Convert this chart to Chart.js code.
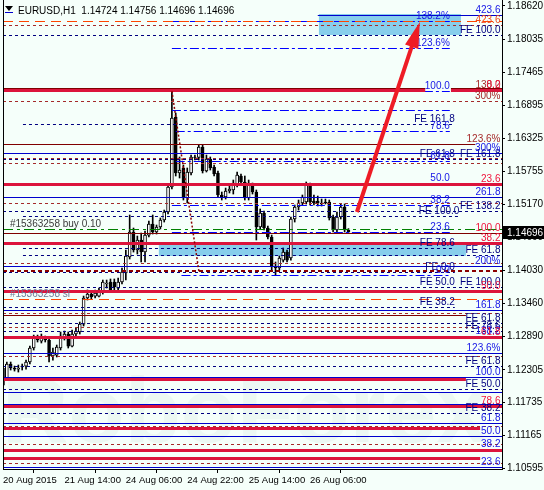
<!DOCTYPE html>
<html>
<head>
<meta charset="utf-8">
<script src="https://cdn.jsdelivr.net/npm/chart.js@4.4.1/dist/chart.umd.min.js"></script>
<style>
  html, body { margin: 0; padding: 0; background: #f5fffa; overflow: hidden; }
</style>
</head>
<body>
<canvas id="chart" width="544" height="490"></canvas>
<script>
// === DATA (EURUSD H1) ===
const opens = [1.12040,1.12162,1.12405,1.12336,1.12318,1.12353,1.12370,1.12440,1.12683,1.12856,
  1.12804,1.12856,1.12822,1.12544,1.12561,1.12683,1.12856,1.12926,1.12717,1.12926,
  1.12961,1.13099,1.13551,1.13620,1.13585,1.13585,1.13655,1.13794,1.13829,1.13829,
  1.13724,1.13829,1.13985,1.14263,1.14697,1.14384,1.14558,1.14349,1.14644,1.14835,
  1.14697,1.14783,1.14905,1.15044,1.15478,1.16693,1.15721,1.15808,1.15287,1.15721,
  1.15999,1.15990,1.16172,1.15755,1.15964,1.15825,1.15721,1.15339,1.15304,1.15408,
  1.15426,1.15512,1.15669,1.15565,1.15287,1.15530,1.15391,1.14783,1.15026,1.14766,
  1.14610,1.14089,1.14072,1.14210,1.14349,1.14245,1.14922,1.15131,1.15200,1.15217,
  1.15512,1.15235,1.15235,1.15200,1.15217,1.15217,1.14957,1.14731,1.14957,1.15131,
  1.14724];
const highs = [1.12422,1.12440,1.12440,1.12370,1.12388,1.12405,1.12474,1.12717,1.12908,1.12908,
  1.12926,1.12891,1.12856,1.12683,1.12735,1.12961,1.12978,1.12961,1.12995,1.13030,
  1.13134,1.13585,1.13690,1.13655,1.13690,1.13724,1.13863,1.13863,1.13881,1.13881,
  1.13898,1.14072,1.14384,1.14992,1.14766,1.14627,1.14679,1.14714,1.14887,1.14992,
  1.14818,1.14940,1.15078,1.15512,1.17144,1.16762,1.15999,1.15860,1.15808,1.16033,
  1.16033,1.16207,1.16207,1.16033,1.15999,1.15860,1.15755,1.15391,1.15460,1.15495,
  1.15599,1.15738,1.15703,1.15669,1.15599,1.15547,1.15426,1.15096,1.15061,1.14801,
  1.14644,1.14176,1.14280,1.14419,1.14384,1.14957,1.15165,1.15252,1.15339,1.15565,
  1.15547,1.15339,1.15321,1.15269,1.15269,1.15252,1.14992,1.15044,1.15183,1.15183,
  1.14756];
const lows = [1.11954,1.12127,1.12301,1.12283,1.12266,1.12301,1.12318,1.12405,1.12648,1.12787,
  1.12770,1.12787,1.12440,1.12474,1.12527,1.12648,1.12822,1.12683,1.12700,1.12891,
  1.12926,1.13065,1.13516,1.13533,1.13551,1.13568,1.13620,1.13724,1.13655,1.13690,
  1.13690,1.13794,1.13863,1.14228,1.14349,1.14315,1.14176,1.14176,1.14610,1.14662,
  1.14662,1.14749,1.14870,1.15009,1.15443,1.15669,1.15634,1.15252,1.15200,1.15686,
  1.15946,1.15946,1.15721,1.15738,1.15773,1.15669,1.15304,1.15252,1.15269,1.15374,
  1.15356,1.15478,1.15530,1.15252,1.15252,1.15356,1.14558,1.14749,1.14731,1.14575,
  1.14037,1.13950,1.14037,1.14176,1.14176,1.14210,1.14870,1.15078,1.15165,1.15183,
  1.15165,1.15165,1.15148,1.15148,1.15183,1.14905,1.14697,1.14697,1.14922,1.14697,
  1.14696];
const closes = [1.12336,1.12405,1.12336,1.12318,1.12336,1.12370,1.12440,1.12683,1.12856,1.12822,
  1.12874,1.12822,1.12544,1.12613,1.12700,1.12891,1.12926,1.12717,1.12926,1.12978,
  1.13099,1.13551,1.13620,1.13568,1.13638,1.13690,1.13829,1.13811,1.13690,1.13742,
  1.13829,1.14002,1.14280,1.14697,1.14384,1.14558,1.14349,1.14644,1.14835,1.14697,
  1.14783,1.14905,1.15044,1.15478,1.16676,1.15721,1.15773,1.15287,1.15738,1.15999,
  1.15990,1.16172,1.15755,1.15964,1.15808,1.15703,1.15339,1.15287,1.15408,1.15443,
  1.15547,1.15686,1.15565,1.15287,1.15530,1.15391,1.14783,1.15026,1.14766,1.14610,
  1.14089,1.14072,1.14245,1.14349,1.14210,1.14922,1.15131,1.15200,1.15304,1.15512,
  1.15217,1.15200,1.15200,1.15183,1.15200,1.14940,1.14731,1.14957,1.15131,1.14731,
  1.14696];

const timeTickBars = [0, 16, 32, 48, 64, 80];
const timeLabels = ['20 Aug 2015', '21 Aug 14:00', '24 Aug 06:00', '24 Aug 22:00', '25 Aug 14:00', '26 Aug 06:00'];
const priceTicks = [1.18620, 1.18035, 1.17465, 1.16895, 1.16325, 1.15755, 1.15170, 1.14600,
  1.14030, 1.13460, 1.12890, 1.12305, 1.11735, 1.11165, 1.10595];

// chart objects: [price, from bar, to bar]
const crimsonLines = [[1.17162,0,110],[1.17162,116.7,130],[1.15530,0,130],[1.14500,0,130],[1.13672,0,130],
  [1.12868,0,130],[1.12153,0,120.6],[1.11676,0,130],[1.11289,0,124.3],[1.10912,0,130],[1.10768,0,124.3]];
const darkRedLines = [[1.17188,0,110],[1.17188,116.7,130],[1.16219,0,123],[1.14674,0,130],[1.13256,0,120.6],[1.10591,0,130]];
const blueLines = [[1.18469,82,130],[1.16063,0,130],[1.15299,0,130],[1.14106,0,130],[1.13342,0,130],[1.12891,0,130],
  [1.12591,0,130],[1.12185,0,130],[1.11924,0,130],[1.11711,0,130],[1.11376,0,130],[1.11155,0,130],[1.10929,0,130],[1.10617,0,130]];
const brownDashLines = [[1.18290,0,130],[1.16971,0,130],[1.15981,0,130],[1.15889,0,130],[1.15195,0,130],[1.14153,0,130],
  [1.13285,0,130],[1.13052,0,130],[1.12549,0,130],[1.11329,0,130],[1.11016,0,130],[1.10681,0,130]];
const darkRedDashLines = [[1.14028,0,130]];
const navyLines = [[1.18116,0,130],[1.16563,5.2,117.7],[1.15964,0,130],[1.15066,0,130],[1.14974,5.2,118.9],
  [1.14422,5.2,117.7],[1.14297,5.2,130],[1.14007,0,117.7],[1.13736,0,130],[1.13389,0,117.7],[1.13122,0,130],
  [1.12978,0,130],[1.12379,0,130],[1.11966,0,130],[1.11549,0,130]];
const dashDotLines = [[1.18359,44,116.4],[1.17886,44,116.4],[1.17136,44,116.4],[1.16814,44,116.4],[1.16455,45,116.4],
  [1.15938,45,116.4],[1.15547,44,116.4],[1.15165,44,116.4],[1.14691,44,116.4],[1.13950,46.5,116.4]];
const orangeLines = [[1.18365,0,130],[1.13528,0,130]];
const greenLines = [[1.14754,0,130]];
const zones = [[82.3,119.3,1.18481,1.18116],[40.6,120.6,1.14506,1.14280]];
const fiboTrend = [[44,1.17144],[51.1,1.13985]];
const arrowFrom = [92.2, 1.15044];
const arrowTo = [108.6, 1.18342];

// level labels: [text, price]
const blueRight = [['423.6',1.18469],['300%',1.16063],['261.8',1.15299],['200%',1.14106],['161.8',1.13342],['138.2',1.12891],
  ['123.6%',1.12591],['100.0',1.12185],['61.8',1.11376],['50.0',1.11155],['38.2',1.10929],['23.6',1.10617]];
const redRight = [['0.0',1.17162],['23.6',1.15530],['100.0',1.14674],['38.2',1.14500],['50.0',1.13672],['61.8',1.12868],['78.6',1.11676]];
const orangeRight = [['423.6',1.18290]];
const brownRight = [['138.2',1.17162],['300%',1.16971],['123.6%',1.16219]];
const navyRight = [['FE 100.0',1.18116],['FE 161.8',1.15964],['FE 138.2',1.15066],['FE 61.8',1.14297],['FE 100.0',1.13736],
  ['FE 61.8',1.13122],['FE 78.6',1.12978],['FE 61.8',1.12379],['FE 50.0',1.11966],['FE 38.2',1.11549]];
const blueMid = [['138.2%',1.18359],['123.6%',1.17886],['100.0',1.17136],['78.6',1.16455],['61.8',1.15938],
  ['50.0',1.15547],['38.2',1.15165],['23.6',1.14691],['0.0',1.13950]];
const navyMid = [['FE 161.8',1.16563],['FE 61.8',1.15964],['FE 78.6',1.14422],['FE 0.0',1.14007],['FE 50.0',1.13736],['FE 38.2',1.13389]];
const navyMidWide = [['FE 100.0',1.14974]];
const orderLabels = [['#15363258 buy 0.10',1.14783]];
const slLabels = [['#15363258 sl',1.13568]];

// === STYLES ===
const FONT = '10px "Liberation Sans", Arial, sans-serif';
const styles = {
  crimson: { color: '#dc143c', width: 3, dash: [] },
  darkred: { color: '#800000', width: 1, dash: [] },
  blue: { color: '#0000cd', width: 1, dash: [] },
  brown: { color: '#a52a2a', width: 1, dash: [3, 3] },
  darkredDash: { color: '#8b0000', width: 2, dash: [4, 3] },
  navy: { color: '#000080', width: 1, dash: [3, 3] },
  dashdot: { color: '#0000ff', width: 1, dash: [9, 3, 3, 3] },
  orange: { color: '#ff4500', width: 1, dash: [10, 6] },
  green: { color: '#008000', width: 1, dash: [10, 4, 3, 4] }
};

function drawLines(ctx, xs, ys, list, st) {
  ctx.strokeStyle = st.color;
  ctx.lineWidth = st.width;
  ctx.setLineDash(st.dash);
  list.forEach(([p, b0, b1]) => {
    let py = Math.round(ys.getPixelForValue(p));
    if (st.width % 2 === 1) py += 0.5;
    ctx.beginPath();
    ctx.moveTo(xs.getPixelForValue(b0), py);
    ctx.lineTo(xs.getPixelForValue(b1), py);
    ctx.stroke();
  });
}

function drawLabels(ctx, xs, ys, list, color, bar, align, lift) {
  ctx.fillStyle = color;
  ctx.textAlign = align;
  ctx.textBaseline = 'alphabetic';
  ctx.font = FONT;
  list.forEach(([t, p]) => {
    ctx.fillText(t, xs.getPixelForValue(bar), Math.round(ys.getPixelForValue(p)) - lift);
  });
}

const mt4Plugin = {
  id: 'mt4',
  beforeDatasetsDraw(chart) {
    const { ctx, chartArea: a, scales: { x, y } } = chart;
    ctx.save();
    ctx.beginPath();
    ctx.rect(a.left, a.top, a.width, a.height);
    ctx.clip();
    // faint broker watermark
    ctx.font = 'bold 92px "Liberation Sans", Arial';
    ctx.fillStyle = 'rgba(140,170,160,0.08)';
    ctx.textAlign = 'left';
    ctx.fillText('RoboForex', 2, 442);
    // rectangles
    ctx.fillStyle = '#87ceeb';
    zones.forEach(z => {
      const x0 = x.getPixelForValue(z[0]), x1 = x.getPixelForValue(z[1]);
      const y0 = y.getPixelForValue(z[2]), y1 = y.getPixelForValue(z[3]);
      ctx.fillRect(x0, y0, x1 - x0, y1 - y0);
    });
    ctx.restore();
  },
  afterDatasetsDraw(chart) {
    const { ctx, chartArea: a, scales: { x, y } } = chart;
    ctx.save();
    ctx.beginPath();
    ctx.rect(a.left, a.top, a.width, a.height);
    ctx.clip();

    drawLines(ctx, x, y, brownDashLines, styles.brown);
    drawLines(ctx, x, y, navyLines, styles.navy);
    drawLines(ctx, x, y, dashDotLines, styles.dashdot);
    drawLines(ctx, x, y, orangeLines, styles.orange);
    drawLines(ctx, x, y, greenLines, styles.green);
    drawLines(ctx, x, y, darkRedDashLines, styles.darkredDash);
    drawLines(ctx, x, y, blueLines, styles.blue);
    drawLines(ctx, x, y, darkRedLines, styles.darkred);
    drawLines(ctx, x, y, crimsonLines, styles.crimson);

    // fibo expansion trend (dotted)
    ctx.strokeStyle = '#8b0000';
    ctx.lineWidth = 1.5;
    ctx.setLineDash([2, 2]);
    ctx.beginPath();
    ctx.moveTo(x.getPixelForValue(fiboTrend[0][0]), y.getPixelForValue(fiboTrend[0][1]));
    ctx.lineTo(x.getPixelForValue(fiboTrend[1][0]), y.getPixelForValue(fiboTrend[1][1]));
    ctx.stroke();
    ctx.setLineDash([]);

    // labels
    drawLabels(ctx, x, y, brownRight, '#a52a2a', 129.6, 'right', 2);
    drawLabels(ctx, x, y, navyRight, '#000080', 129.6, 'right', 2);
    drawLabels(ctx, x, y, blueRight, '#1515e6', 129.6, 'right', 2);
    drawLabels(ctx, x, y, orangeRight, '#f04a1a', 129.6, 'right', 2);
    drawLabels(ctx, x, y, redRight, '#f0143c', 129.6, 'right', 2);
    drawLabels(ctx, x, y, navyMid, '#000080', 117.7, 'right', 2);
    drawLabels(ctx, x, y, navyMidWide, '#000080', 118.9, 'right', 2);
    drawLabels(ctx, x, y, blueMid, '#1515e6', 116.4, 'right', 2);
    drawLabels(ctx, x, y, orderLabels, '#3a3a3a', 1.8, 'left', 0);
    drawLabels(ctx, x, y, slLabels, '#6b7b99', 1.8, 'left', 0);

    // red arrow
    const ax0 = x.getPixelForValue(arrowFrom[0]), ay0 = y.getPixelForValue(arrowFrom[1]);
    const ax1 = x.getPixelForValue(arrowTo[0]), ay1 = y.getPixelForValue(arrowTo[1]);
    const dx = ax1 - ax0, dy = ay1 - ay0, len = Math.hypot(dx, dy);
    const ux = dx / len, uy = dy / len, hl = 26, hw = 7;
    const bx = ax1 - ux * hl, by = ay1 - uy * hl;
    ctx.strokeStyle = '#ee1c25';
    ctx.fillStyle = '#ee1c25';
    ctx.lineWidth = 4;
    ctx.beginPath();
    ctx.moveTo(ax0, ay0);
    ctx.lineTo(bx + ux * 2, by + uy * 2);
    ctx.stroke();
    ctx.beginPath();
    ctx.moveTo(ax1, ay1);
    ctx.lineTo(bx - uy * hw, by + ux * hw);
    ctx.lineTo(bx + uy * hw, by - ux * hw);
    ctx.closePath();
    ctx.fill();
    ctx.restore();
  },
  afterDraw(chart) {
    const { ctx, chartArea: a, scales: { y } } = chart;
    const n = closes.length - 1;
    ctx.save();
    // left frame
    ctx.strokeStyle = '#000';
    ctx.lineWidth = 1;
    ctx.beginPath();
    ctx.moveTo(a.left + 0.5, a.top);
    ctx.lineTo(a.left + 0.5, a.bottom);
    ctx.stroke();
    // header
    ctx.fillStyle = '#000';
    ctx.beginPath();
    ctx.moveTo(5, 6); ctx.lineTo(13, 6); ctx.lineTo(9, 11); ctx.closePath();
    ctx.fill();
    ctx.fillStyle = '#0000cd';
    ctx.fillRect(5, 12, 8, 1);
    ctx.fillStyle = '#000';
    ctx.font = FONT;
    ctx.textAlign = 'left';
    ctx.textBaseline = 'alphabetic';
    ctx.fillText('EURUSD,H1  ' + [opens[n], highs[n], lows[n], closes[n]].map(v => v.toFixed(5)).join(' '), 18, 14);
    // bid price box
    const py = Math.round(y.getPixelForValue(closes[n]));
    ctx.fillStyle = '#000';
    ctx.fillRect(a.right + 1, py - 6, 42, 13);
    ctx.fillStyle = '#fff';
    ctx.textBaseline = 'middle';
    ctx.fillText(closes[n].toFixed(5), a.right + 5, py + 1);
    ctx.restore();
  }
};

// === CANDLES ===
const idx = closes.map((c, i) => i);
const bodyData = idx.map(i => {
  let o = opens[i], c = closes[i];
  if (Math.abs(o - c) < 0.00004) c = o - 0.00004;
  return { x: i, y: [o, c] };
});
const wickData = idx.map(i => ({ x: i, y: [lows[i], highs[i]] }));
const bodyColors = idx.map(i => closes[i] >= opens[i] ? '#ffffff' : '#000000');

new Chart(document.getElementById('chart'), {
  type: 'bar',
  data: {
    datasets: [
      { data: bodyData, backgroundColor: bodyColors, borderColor: '#000', borderWidth: 1,
        borderSkipped: false, barThickness: 3, grouped: false },
      { data: wickData, backgroundColor: '#000', borderWidth: 0, barThickness: 1, grouped: false }
    ]
  },
  options: {
    responsive: false,
    devicePixelRatio: 1,
    animation: false,
    events: [],
    layout: { padding: { left: 3, top: 0, right: 0, bottom: 0 } },
    plugins: { legend: { display: false }, tooltip: { enabled: false } },
    scales: {
      x: {
        type: 'linear', min: 0, max: 130, offset: false,
        afterBuildTicks: s => { s.ticks = timeTickBars.map(v => ({ value: v })); },
        afterFit: s => { s.height = 21; s.paddingLeft = 0; s.paddingRight = 0; },
        ticks: { callback: (v, i) => timeLabels[i], align: 'start', maxRotation: 0, autoSkip: false,
          color: '#000', padding: 2, font: { family: '"Liberation Sans", Arial', size: 9.5 } },
        grid: { drawOnChartArea: false, tickLength: 4, tickColor: '#000', color: '#000' },
        border: { color: '#000' }
      },
      y: {
        type: 'linear', position: 'right', min: 1.10583, max: 1.18724,
        afterBuildTicks: s => { s.ticks = priceTicks.map(v => ({ value: v })); },
        afterFit: s => { s.width = 42; s.paddingTop = 0; s.paddingBottom = 0; },
        ticks: { callback: v => v.toFixed(5), autoSkip: false, color: '#000', padding: 2,
          font: { family: '"Liberation Sans", Arial', size: 10 } },
        grid: { drawOnChartArea: false, tickLength: 3, tickColor: '#000', color: '#000' },
        border: { color: '#000' }
      }
    }
  },
  plugins: [mt4Plugin]
});
</script>
</body>
</html>
